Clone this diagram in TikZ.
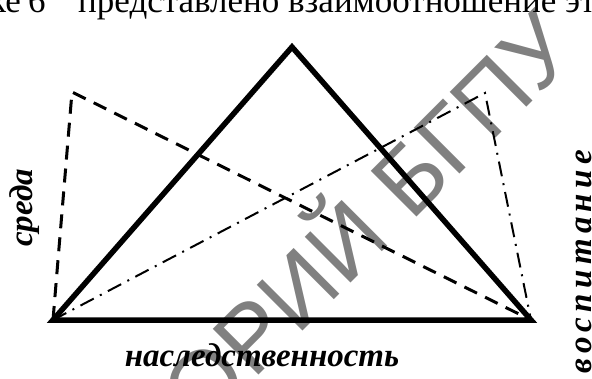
\documentclass[tikz,border=0pt]{standalone}
\usepackage{fontspec}
\setmainfont{Liberation Serif}
\newfontfamily\wmfont{Liberation Sans}
\begin{document}
\begin{tikzpicture}[x=1pt,y=-1pt,
  thickline/.style={line width=5.5pt, line join=miter},
  dashline/.style={line width=3pt, dash pattern=on 14pt off 9pt},
  dotline/.style={line width=2pt, dash pattern=on 15pt off 7pt on 2pt off 7pt},
  lab/.style={font=\fontsize{33}{33}\selectfont\bfseries\itshape, inner sep=0pt},
  wm/.style={font=\fontsize{94}{94}\selectfont\wmfont, text=black!50, inner sep=0pt},
  toptext/.style={font=\fontsize{35}{35}\selectfont, inner sep=0pt}]
\useasboundingbox (0,0) rectangle (592,378);
\clip (0,0) rectangle (592,378);
\node[wm, anchor=base east, rotate=45] (wm) at (581,53) {РЕПОЗИТОРИЙ БГПУ};
\node[toptext, anchor=base east] (t1) at (21,12.5) {ке};
\node[toptext, anchor=base west] (t2) at (28,12.5) {6};
\node[toptext, anchor=base west] (t3) at (78,12.5) {представлено взаимоотношение этих};
\coordinate (A) at (53,320);
\coordinate (B) at (531,320);
\coordinate (C) at (292,47);
\coordinate (D) at (72,92);
\coordinate (E) at (485,93);
\draw[dashline] (A) -- (D) -- (B);
\draw[dotline] (A) -- (E) -- (B);
\draw[thickline] (A) -- (B) -- (C) -- cycle;
\node[lab, anchor=base, rotate=90] (sreda) at (32,208) {среда};
\node[lab, anchor=base] (nasl) at (262,366) {наследственность};
\node[lab, anchor=base east, rotate=90] (vosp) at (591,150) {\addfontfeature{LetterSpace=16}воспитание};
\end{tikzpicture}
\end{document}
